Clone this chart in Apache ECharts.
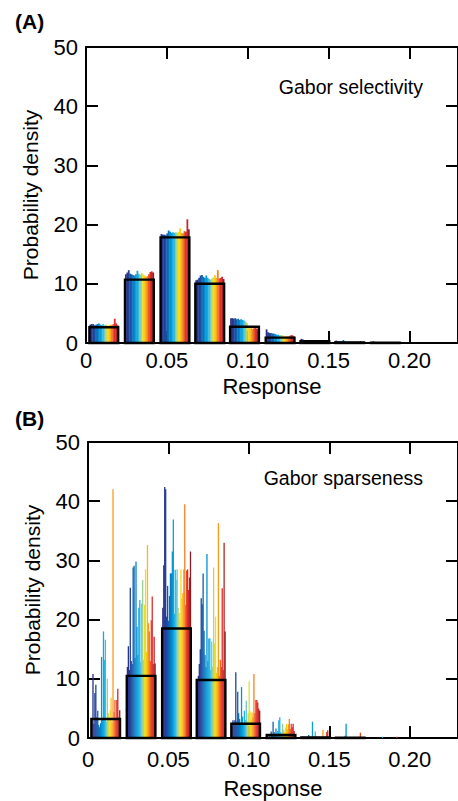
<!DOCTYPE html>
<html><head><meta charset="utf-8">
<script src="https://cdn.jsdelivr.net/npm/echarts@6/dist/echarts.min.js"></script>
<style>html,body{margin:0;padding:0;background:#fff}#c{width:458px;height:801px}</style>
</head><body><div id="c"></div>
<script>
// ---------------- DATA ----------------
const binCenters = [0.011, 0.033, 0.055, 0.0765, 0.098, 0.120, 0.1415, 0.163, 0.185];
const xTicks = [0, 0.05, 0.10, 0.15, 0.20];
const xTickLabels = ['0', '0.05', '0.10', '0.15', '0.20'];
const yTicks = [0, 10, 20, 30, 40, 50];
const panelLabels = ['(A)', '(B)'];
const panelTitles = ['Gabor selectivity', 'Gabor sparseness'];
const xAxisTitle = 'Response';
const yAxisTitle = 'Probability density';

// Panel A: Gabor selectivity, one thin bar per unit (20 units) per bin
const selectivityBins = [
  [3.1,3.2,3.2,3.0,3.1,3.2,3.3,3.1,3.0,3.2,3.0,3.1,3.0,2.9,3.1,3.0,3.2,4.1,3.3,3.0],
  [11.6,11.9,12.3,11.7,11.6,11.5,11.4,11.6,12.2,11.7,11.5,11.8,11.6,11.4,11.2,11.3,11.6,12.0,12.1,11.9],
  [18.4,18.3,18.3,18.2,18.5,19.0,18.8,18.6,18.7,18.6,18.7,18.6,18.8,19.4,18.6,18.5,18.9,18.8,20.9,19.2],
  [10.6,10.7,11.0,11.4,11.5,11.2,11.0,11.4,11.0,10.8,10.7,10.9,11.1,11.5,11.0,12.3,10.9,11.0,11.2,10.8],
  [4.2,4.2,4.1,4.2,4.0,4.1,3.9,4.0,3.9,3.8,3.6,3.4,2.6,2.5,2.5,2.4,2.5,2.6,2.4,2.3],
  [2.3,1.8,1.7,1.7,1.6,1.6,1.5,1.4,1.4,1.3,1.3,1.3,1.2,1.1,1.1,1.1,1.2,1.3,1.3,1.1],
  [0.7,0.6,0.5,0.5,0.5,0.4,0.4,0.4,0.4,0.3,0.4,0.3,0.3,0.3,0.3,0.3,0.4,0.3,0.3,0.2],
  [0.4,0.3,0.2,0.3,0.2,0.5,0.3,0.2,0.1,0.2,0.1,0.1,0.1,0.1,0.1,0.2,0.1,0.3,0.1,0.1],
  [0,0.3,0,0,0,0,0,0.15,0,0,0,0,0,0,0,0,0,0,0,0]
];
const selectivityMean = [2.65, 10.7, 17.85, 10.0, 2.75, 0.9, 0.3, 0.1, 0.05];

// Panel B: Gabor sparseness, 30 units per bin
const sparsenessBins = [
  [3.0,10.8,2.4,7.6,9.0,3.5,4.6,2.2,1.8,2.5,13.7,3.2,18.0,13.2,16.6,2.8,10.0,4.2,3.0,4.7,6.8,2.6,42.0,4.4,6.4,3.1,6.4,8.3,3.5,4.7],
  [12.0,15.5,11.5,25.4,13.0,12.5,28.8,29.1,13.5,29.8,18.8,14.0,22.0,23.3,12.8,22.7,26.7,13.2,22.5,28.5,14.5,32.6,19.4,18.0,13.0,19.9,23.9,12.5,17.1,12.6],
  [22.0,29.2,42.4,42.0,20.5,25.7,19.8,24.0,27.8,27.8,31.5,36.9,21.0,28.4,26.7,28.5,22.0,21.1,20.0,28.5,23.6,24.5,28.5,39.5,22.5,28.3,28.5,25.0,27.1,31.5],
  [8.0,10.5,12.5,15.0,23.6,22.6,27.8,18.1,14.0,12.0,31.1,13.0,16.8,16.8,11.5,16.3,12.0,28.8,16.0,20.5,11.0,12.0,36.3,10.5,13.2,12.0,25.3,11.5,33.0,18.0],
  [2.0,3.0,2.5,3.0,11.1,2.8,7.8,4.2,3.2,2.6,8.6,3.6,2.5,4.6,3.0,6.3,2.8,4.2,9.6,4.5,3.0,4.3,3.5,10.8,4.2,6.4,6.4,6.0,5.0,4.6],
  [0,0,0.3,0,1.1,0.5,2.75,1.0,0.5,1.6,0.8,1.2,3.0,3.5,1.0,0.8,2.4,1.4,1.0,1.8,2.4,1.5,2.3,3.2,1.5,2.4,1.8,2.4,1.2,0.5],
  [0,0,0,0,0,0,0,0.5,0,0,0,2.75,0,0,1.1,0,0,0,0,0,0,0,1.4,0,0,0,1.0,1.3,0,0],
  [0,0,0,0,0,0,0,0,0,0.4,2.4,0,0,0,0,0,0,0,0,0,0,0,0,0,0.2,0.9,0,0,0,0],
  [0,0,0,0,0,0,0,0,0,0,0,0.2,0,0,0,0,0,0,0,0,0,0,0,0,0,0,0.2,0,0,0]
];
const sparsenessMean = [3.2, 10.5, 18.5, 9.8, 2.4, 0.5, 0.1, 0.05, 0];

// ---------------- STYLE ----------------
const FONT = '"Liberation Sans", Arial, Helvetica, sans-serif';
const BIN_WIDTH = 0.0178;
const jetStops = [
  [0.00,'#2b2e83'],[0.12,'#21409a'],[0.25,'#0a6fb8'],[0.35,'#0096d6'],[0.45,'#19b4e8'],
  [0.53,'#7ecbc4'],[0.58,'#b8d65a'],[0.64,'#f4e31e'],[0.72,'#fdb913'],[0.80,'#f47c20'],
  [0.88,'#e8312a'],[0.95,'#c9252c'],[1.00,'#8e1b1f']
];
function hex2rgb(h){return [parseInt(h.substr(1,2),16),parseInt(h.substr(3,2),16),parseInt(h.substr(5,2),16)];}
function jet(t){
  for(let i=1;i<jetStops.length;i++){
    if(t<=jetStops[i][0]){
      const a=jetStops[i-1], b=jetStops[i];
      const f=(t-a[0])/(b[0]-a[0]);
      const ca=hex2rgb(a[1]), cb=hex2rgb(b[1]);
      return 'rgb('+ca.map((v,k)=>Math.round(v+(cb[k]-v)*f)).join(',')+')';
    }
  }
  return jetStops[jetStops.length-1][1];
}

function buildUnits(bins){
  const out=[];
  bins.forEach((arr,b)=>{
    const n=arr.length, w=BIN_WIDTH/n, start=binCenters[b]-BIN_WIDTH/2;
    arr.forEach((v,k)=>{
      out.push({value:[start+k*w, start+(k+1)*w, v], itemStyle:{color: jet(n>1?k/(n-1):0)}});
    });
  });
  return out;
}
function buildMeans(means){
  return means.map((v,b)=>[binCenters[b]-BIN_WIDTH/2, binCenters[b]+BIN_WIDTH/2, v]);
}

function unitRender(params, api){
  const p0=api.coord([api.value(0), api.value(2)]);
  const p1=api.coord([api.value(1), 0]);
  return {type:'rect', shape:{x:p0[0], y:p0[1], width:p1[0]-p0[0]+0.35, height:p1[1]-p0[1]},
    style:{fill: api.visual('color')}};
}
function meanRender(params, api){
  const v=api.value(2);
  if(v<=0) return null;
  const p0=api.coord([api.value(0), v]);
  const p1=api.coord([api.value(1), 0]);
  return {type:'rect', shape:{x:p0[0], y:p0[1], width:p1[0]-p0[0], height:p1[1]-p0[1]},
    style:{fill:'none', stroke:'#000', lineWidth:2.4}};
}

const axisLine={lineStyle:{color:'#000', width:2}};
const axisTick={inside:true, length:12, lineStyle:{color:'#000', width:2}};
function xLabel(v){const i=xTicks.findIndex(t=>Math.abs(t-v)<1e-9);return i>=0?xTickLabels[i]:'';}

const grids=[{left:86, top:47, width:377, height:296},{left:88, top:442, width:377, height:296}];
const labelMargins=[6, 10];
const nameGaps=[32, 39];

const xAxes=[], yAxes=[];
grids.forEach((g,i)=>{
  xAxes.push({gridIndex:i, type:'value', min:0, max:0.23, interval:0.05, position:'bottom',
    axisLine, axisTick, splitLine:{show:false},
    axisLabel:{color:'#000', fontSize:22, fontFamily:FONT, margin:labelMargins[i], showMaxLabel:false, formatter:xLabel},
    name:xAxisTitle, nameLocation:'middle', nameGap:nameGaps[i],
    nameTextStyle:{color:'#000', fontSize:22, fontFamily:FONT}});
  xAxes.push({gridIndex:i, type:'value', min:0, max:0.23, interval:0.05, position:'top',
    axisLine:Object.assign({onZero:false},axisLine), axisTick, splitLine:{show:false}, axisLabel:{show:false}});
  yAxes.push({gridIndex:i, type:'value', min:yTicks[0], max:yTicks[yTicks.length-1], interval:10, position:'left',
    axisLine:Object.assign({onZero:false},axisLine), axisTick, splitLine:{show:false},
    axisLabel:{color:'#000', fontSize:22, fontFamily:FONT, margin:8},
    name:yAxisTitle, nameLocation:'middle', nameGap:45,
    nameTextStyle:{color:'#000', fontSize:21, fontFamily:FONT}});
  yAxes.push({gridIndex:i, type:'value', min:yTicks[0], max:yTicks[yTicks.length-1], interval:10, position:'right',
    axisLine:Object.assign({onZero:false},axisLine), axisTick, splitLine:{show:false}, axisLabel:{show:false}});
});

const series=[];
[[selectivityBins, selectivityMean],[sparsenessBins, sparsenessMean]].forEach((p,i)=>{
  series.push({type:'custom', xAxisIndex:2*i, yAxisIndex:2*i, renderItem:unitRender,
    encode:{x:[0,1], y:2}, data:buildUnits(p[0]), z:2, silent:true, clip:false});
  series.push({type:'custom', xAxisIndex:2*i, yAxisIndex:2*i, renderItem:meanRender,
    encode:{x:[0,1], y:2}, data:buildMeans(p[1]), z:3, silent:true, clip:false});
});

const chart=echarts.init(document.getElementById('c'), null, {renderer:'svg'});
chart.setOption({
  animation:false,
  backgroundColor:'#fff',
  grid:grids,
  xAxis:xAxes,
  yAxis:yAxes,
  series,
  graphic:[
    {type:'text', x:15, y:21.5, style:{text:panelLabels[0], font:'bold 21px '+FONT, fill:'#000', verticalAlign:'middle'}},
    {type:'text', x:15, y:418, style:{text:panelLabels[1], font:'bold 21px '+FONT, fill:'#000', verticalAlign:'middle'}},
    {type:'text', x:423, y:87, style:{text:panelTitles[0], font:'19.5px '+FONT, fill:'#000', align:'right', verticalAlign:'middle'}},
    {type:'text', x:423, y:478, style:{text:panelTitles[1], font:'19.5px '+FONT, fill:'#000', align:'right', verticalAlign:'middle'}}
  ]
});
</script></body></html>
